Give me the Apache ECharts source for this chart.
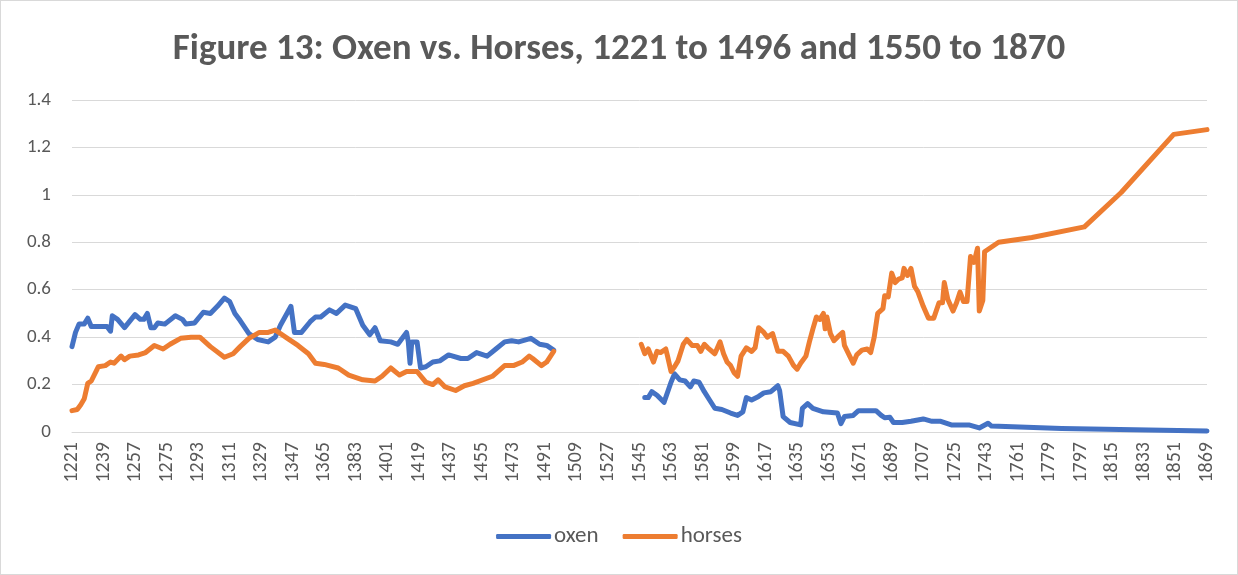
<!DOCTYPE html>
<html><head><meta charset="utf-8">
<script src="https://cdn.jsdelivr.net/npm/echarts@6/dist/echarts.min.js"></script>
<style>html,body{margin:0;padding:0;background:#fff}#c{width:1238px;height:575px;box-sizing:border-box;border:1px solid #d9d9d9}</style>
</head><body><div id="c"></div>
<script>
// Category axis: every year 1221..1869
const firstYear = 1221;
const lastYear = 1869;
const years = [];
for (let y = firstYear; y <= lastYear; y++) years.push(String(y));

// Oxen, 1221-1496 (year, value)
const oxenEarly = [
  [1221,0.36],[1223,0.42],[1225,0.455],[1228,0.455],[1230,0.48],[1232,0.445],[1241,0.445],[1243,0.425],
  [1244,0.49],[1247,0.475],[1251,0.44],[1257,0.495],[1260,0.475],[1262,0.475],[1264,0.50],[1266,0.44],
  [1268,0.44],[1270,0.46],[1274,0.455],[1280,0.49],[1284,0.475],[1286,0.455],[1291,0.46],[1296,0.505],
  [1300,0.50],[1304,0.53],[1308,0.565],[1311,0.55],[1314,0.50],[1317,0.47],[1322,0.415],[1327,0.39],
  [1333,0.38],[1337,0.40],[1340,0.45],[1346,0.53],[1348,0.42],[1352,0.42],[1357,0.465],[1360,0.485],
  [1363,0.485],[1368,0.515],[1372,0.50],[1377,0.535],[1383,0.52],[1387,0.45],[1391,0.41],[1394,0.44],
  [1397,0.385],[1403,0.38],[1407,0.37],[1409,0.39],[1412,0.42],[1413,0.38],[1414,0.29],[1415,0.38],
  [1418,0.38],[1420,0.27],[1423,0.275],[1427,0.295],[1431,0.30],[1436,0.325],[1443,0.31],[1447,0.31],
  [1452,0.335],[1458,0.32],[1463,0.35],[1468,0.38],[1472,0.385],[1476,0.38],[1483,0.395],[1488,0.37],
  [1492,0.365],[1496,0.345]
];
// Oxen, 1548-1869
const oxenLate = [
  [1548,0.145],[1550,0.145],[1552,0.17],[1555,0.155],[1559,0.125],[1563,0.21],[1565,0.245],[1568,0.22],
  [1571,0.215],[1574,0.19],[1576,0.215],[1579,0.21],[1582,0.17],[1585,0.135],[1588,0.10],[1592,0.095],
  [1597,0.08],[1601,0.07],[1604,0.085],[1606,0.145],[1609,0.135],[1613,0.15],[1616,0.165],[1620,0.17],
  [1624,0.195],[1625,0.175],[1627,0.065],[1631,0.04],[1637,0.03],[1638,0.10],[1641,0.12],[1644,0.10],
  [1650,0.085],[1658,0.08],[1660,0.035],[1662,0.065],[1667,0.07],[1670,0.09],[1680,0.09],[1683,0.07],
  [1685,0.06],[1688,0.062],[1690,0.04],[1695,0.04],[1700,0.045],[1707,0.055],[1712,0.045],[1717,0.045],
  [1723,0.03],[1733,0.03],[1739,0.017],[1744,0.037],[1746,0.025],[1786,0.015],[1869,0.004]
];
// Horses, 1221-1496
const horsesEarly = [
  [1221,0.09],[1224,0.095],[1226,0.115],[1228,0.14],[1230,0.205],[1232,0.215],[1236,0.275],[1240,0.28],
  [1243,0.295],[1245,0.29],[1249,0.32],[1251,0.305],[1254,0.32],[1259,0.325],[1263,0.335],[1268,0.365],
  [1273,0.35],[1277,0.37],[1283,0.395],[1289,0.40],[1294,0.40],[1300,0.36],[1308,0.315],[1313,0.33],
  [1317,0.36],[1322,0.395],[1328,0.42],[1333,0.42],[1337,0.43],[1344,0.395],[1350,0.365],[1356,0.33],
  [1360,0.29],[1365,0.285],[1373,0.27],[1379,0.24],[1387,0.22],[1394,0.215],[1398,0.235],[1403,0.27],
  [1408,0.24],[1412,0.255],[1418,0.255],[1423,0.21],[1427,0.20],[1430,0.22],[1434,0.19],[1440,0.175],
  [1445,0.195],[1450,0.205],[1461,0.235],[1468,0.28],[1473,0.28],[1478,0.295],[1482,0.32],[1484,0.31],
  [1489,0.28],[1492,0.295],[1496,0.34]
];
// Horses, 1546-1869
const horsesLate = [
  [1546,0.37],[1548,0.33],[1550,0.35],[1553,0.295],[1555,0.34],[1557,0.335],[1560,0.35],[1561,0.32],
  [1563,0.255],[1565,0.275],[1567,0.30],[1570,0.37],[1572,0.39],[1575,0.365],[1578,0.365],[1580,0.34],
  [1582,0.37],[1584,0.355],[1588,0.33],[1591,0.38],[1593,0.33],[1595,0.295],[1597,0.28],[1599,0.25],
  [1601,0.235],[1603,0.32],[1606,0.355],[1609,0.34],[1611,0.355],[1613,0.44],[1616,0.42],[1618,0.40],
  [1621,0.415],[1624,0.34],[1627,0.34],[1630,0.32],[1633,0.28],[1635,0.265],[1637,0.29],[1640,0.32],
  [1642,0.38],[1644,0.435],[1646,0.485],[1648,0.475],[1650,0.50],[1651,0.435],[1652,0.485],[1654,0.415],
  [1656,0.385],[1658,0.40],[1661,0.42],[1662,0.365],[1665,0.32],[1667,0.29],[1669,0.325],[1672,0.345],
  [1675,0.35],[1677,0.335],[1679,0.40],[1681,0.50],[1684,0.52],[1685,0.575],[1687,0.57],[1689,0.67],
  [1691,0.63],[1693,0.645],[1695,0.65],[1696,0.69],[1698,0.66],[1700,0.69],[1702,0.615],[1704,0.59],
  [1707,0.53],[1708,0.525],[1710,0.48],[1713,0.48],[1714,0.485],[1716,0.545],[1718,0.545],[1719,0.63],
  [1721,0.56],[1724,0.51],[1726,0.545],[1728,0.59],[1730,0.55],[1732,0.55],[1734,0.74],[1736,0.715],
  [1738,0.775],[1739,0.51],[1741,0.555],[1742,0.76],[1746,0.78],[1750,0.80],[1769,0.82],[1799,0.865],
  [1820,1.01],[1850,1.255],[1869,1.275]
];

const gapYear = 1520;
function toSeries(early, late) {
  const out = early.map(p => [String(p[0]), p[1]]);
  out.push([String(gapYear), '-']);
  late.forEach(p => out.push([String(p[0]), p[1]]));
  return out;
}

const textColor = '#595959';
const font = 'Calibri, Carlito, Lato, sans-serif';
const chart = echarts.init(document.getElementById('c'), null, {renderer: 'canvas'});
chart.setOption({
  animation: false,
  backgroundColor: '#fff',
  title: {
    text: 'Figure 13: Oxen vs. Horses, 1221 to 1496 and 1550 to 1870',
    left: 'center', top: 25,
    textStyle: {fontFamily: font, fontWeight: 'bold', fontSize: 37, color: textColor}
  },
  legend: {
    bottom: 21, left: 'center',
    icon: 'roundRect', itemWidth: 55, itemHeight: 5, itemGap: 24,
    textStyle: {fontFamily: font, fontSize: 23, color: textColor, padding: [0,0,0,-2]},
    data: ['oxen', 'horses']
  },
  grid: {left: 71, right: 30, top: 99, bottom: 142, containLabel: false},
  xAxis: {
    type: 'category', data: years, boundaryGap: false,
    axisLine: {lineStyle: {color: '#d9d9d9', width: 1}},
    axisTick: {show: false},
    axisLabel: {
      rotate: 90, color: textColor, fontFamily: font, fontSize: 20, margin: 10,
      interval: (i) => i % 18 === 0
    },
    splitLine: {show: false}
  },
  yAxis: {
    type: 'value', min: 0, max: 1.4, interval: 0.2,
    axisLine: {show: false}, axisTick: {show: false},
    axisLabel: {color: textColor, fontFamily: font, fontSize: 19, margin: 21},
    splitLine: {lineStyle: {color: '#d9d9d9', width: 1}}
  },
  series: [
    {name: 'oxen', type: 'line', symbol: 'none', connectNulls: false,
     itemStyle: {color: '#4472C4'}, lineStyle: {color: '#4472C4', width: 5, cap: 'round', join: 'round'},
     data: toSeries(oxenEarly, oxenLate)},
    {name: 'horses', type: 'line', symbol: 'none', connectNulls: false,
     itemStyle: {color: '#ED7D31'}, lineStyle: {color: '#ED7D31', width: 5, cap: 'round', join: 'round'},
     data: toSeries(horsesEarly, horsesLate)}
  ]
});
</script></body></html>
